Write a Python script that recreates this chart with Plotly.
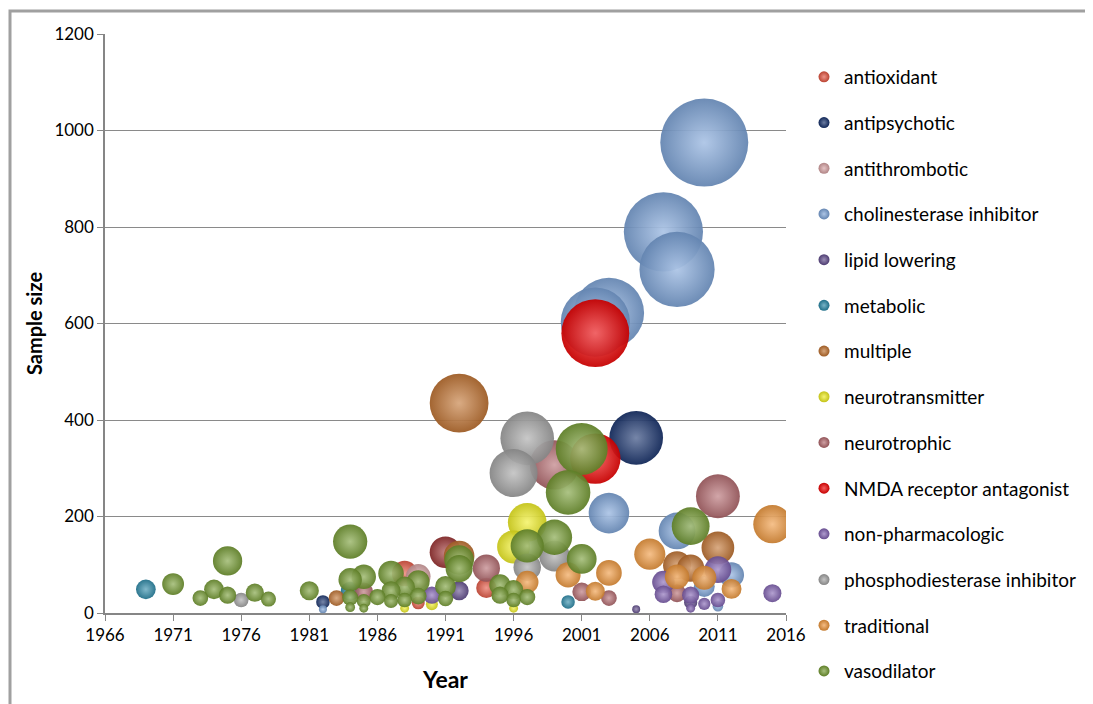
import plotly.graph_objects as go

# ---- data (year, sample size) per category ----
antioxidant_year = [1988, 1989, 1994]
antioxidant_n = [82, 21, 52]
antioxidant_dark_year = [1991]
antioxidant_dark_n = [126]

antipsychotic_year = [2005, 1982]
antipsychotic_n = [363, 23]

antithrombotic_year = [1989]
antithrombotic_n = [76]

cholinesterase_year = [2010, 2007, 2008, 2003, 2002, 2003, 2008, 2012, 2010, 2011, 1982]
cholinesterase_n = [975, 790, 712, 622, 603, 207, 170, 79, 55, 14, 8]

lipid_year = [1992, 2009, 2005]
lipid_n = [46, 22, 8]

metabolic_year = [1969, 1984, 2000]
metabolic_n = [49, 45, 23]

multiple_year = [1992, 2011, 1992, 2008, 2009, 1983]
multiple_n = [435, 135, 118, 99, 93, 31]

neurotransmitter_year = [1997, 1996, 1990, 1996, 1988]
neurotransmitter_n = [188, 137, 18, 10, 10]

neurotrophic_year = [1999, 2011, 1994, 2001, 1985, 2008, 2003]
neurotrophic_n = [307, 242, 93, 44, 44, 41, 31]

nmda_year = [2002, 2002]
nmda_n = [580, 320]

nonpharm_year = [2011, 2007, 2015, 2007, 2009, 1990, 2011, 2010, 2009]
nonpharm_n = [90, 64, 41, 39, 37, 37, 27, 19, 10]

pde_year = [1997, 1996, 1999, 1997, 1976]
pde_n = [362, 290, 118, 95, 27]

traditional_year = [2015, 2006, 2003, 2000, 2008, 2010, 1997, 2012, 2002]
traditional_n = [184, 122, 83, 79, 75, 73, 64, 50, 45]

vasodilator_year = [2001, 2000, 2009, 1999, 1984, 1997, 2001, 1992, 1975, 1992,
                    1987, 1985, 1984, 1989, 1971, 1995, 1991, 1988, 1974, 1996,
                    1981, 1987, 1977, 1975, 1995, 1989, 1986, 1997, 1984, 1973,
                    1991, 1978, 1988, 1996, 1985, 1987, 1984, 1985]
vasodilator_n = [340, 250, 180, 157, 148, 139, 112, 110, 108, 92,
                 82, 75, 69, 65, 60, 58, 55, 54, 49, 48,
                 46, 46, 42, 37, 37, 35, 33, 33, 32, 31,
                 30, 29, 27, 27, 25, 25, 12, 10]

series = [
    ("antioxidant", antioxidant_year, antioxidant_n, "#E4523E"),
    ("antipsychotic", antipsychotic_year, antipsychotic_n, "#142F6B"),
    ("antithrombotic", antithrombotic_year, antithrombotic_n, "#D8A3A4"),
    ("cholinesterase inhibitor", cholinesterase_year, cholinesterase_n, "#7BA3D8"),
    ("lipid lowering", lipid_year, lipid_n, "#5E4A8A"),
    ("metabolic", metabolic_year, metabolic_n, "#2787A6"),
    ("multiple", multiple_year, multiple_n, "#C0702C"),
    ("neurotransmitter", neurotransmitter_year, neurotransmitter_n, "#F0EE1E"),
    ("neurotrophic", neurotrophic_year, neurotrophic_n, "#B2666B"),
    ("NMDA receptor antagonist", nmda_year, nmda_n, "#F20000"),
    ("non-pharmacologic", nonpharm_year, nonpharm_n, "#7E5FB0"),
    ("phosphodiesterase inhibitor", pde_year, pde_n, "#A3A3A3"),
    ("traditional", traditional_year, traditional_n, "#F0963A"),
    ("vasodilator", vasodilator_year, vasodilator_n, "#739A30"),
]


def mix(hexcol, f, target=255):
    h = hexcol.lstrip("#")
    r, g, b = (int(h[i:i + 2], 16) for i in (0, 2, 4))
    r = int(r + (target - r) * f)
    g = int(g + (target - g) * f)
    b = int(b + (target - b) * f)
    return f"rgb({r},{g},{b})"


MAX_D = 88.0
MAX_N = 975.0


def diam(ns):
    return [MAX_D * (v / MAX_N) ** 0.5 for v in ns]


def sphere(col, sizes):
    return dict(size=sizes, sizemode="diameter", color=mix(col, 0.18, 0), opacity=0.94,
                line=dict(width=0),
                gradient=dict(type="radial", color=mix(col, 0.38, 255)))


fig = go.Figure()

for name, xs, ys, col in series:
    fig.add_trace(go.Scatter(
        x=xs, y=ys, mode="markers", name=name, legendgroup=name,
        showlegend=False, hoverinfo="x+y+name",
        marker=sphere(col, diam(ys)),
    ))
    if name == "antioxidant":
        fig.add_trace(go.Scatter(
            x=antioxidant_dark_year, y=antioxidant_dark_n, mode="markers",
            name=name, legendgroup=name, showlegend=False,
            marker=sphere("#9A2E2E", diam(antioxidant_dark_n)),
        ))

# legend entries
for name, xs, ys, col in series:
    m = sphere(col, 11)
    m["opacity"] = 1
    fig.add_trace(go.Scatter(
        x=[None], y=[None], mode="markers", name=name, legendgroup=name,
        showlegend=True, marker=m,
    ))

FONT = "Lato"
fig.update_layout(
    width=1085, height=704,
    margin=dict(l=97, r=307, t=26, b=99),
    paper_bgcolor="white", plot_bgcolor="white",
    font=dict(family=FONT, color="#000000"),
    showlegend=True,
    legend=dict(x=(804 - 105) / 681, y=(613 - 58) / 579, xanchor="left", yanchor="top",
                font=dict(family=FONT, size=19, color="#000000"),
                tracegroupgap=18, traceorder="grouped", maxheight=700,
                bgcolor="rgba(0,0,0,0)", itemwidth=30),
    xaxis=dict(range=[1966, 2016], tick0=1966, dtick=5, tickformat="d",
               showgrid=False, zeroline=False, showline=True,
               linecolor="#868686", linewidth=1.5,
               ticks="outside", ticklen=6, tickcolor="#868686",
               tickfont=dict(family=FONT, size=17),
               title=dict(text="<b>Year</b>", font=dict(family=FONT, size=23), standoff=28)),
    yaxis=dict(range=[0, 1200], dtick=200, showgrid=True, gridcolor="#8A8A8A",
               gridwidth=1.2, zeroline=False, showline=True,
               linecolor="#868686", linewidth=1.5,
               ticks="outside", ticklen=6, tickcolor="#868686",
               tickfont=dict(family=FONT, size=17),
               title=dict(text="<b>Sample size</b>", font=dict(family=FONT, size=20), standoff=6)),
    shapes=[dict(type="rect", xref="paper", yref="paper",
                 x0=(10 - 105) / 681, x1=(1110 - 105) / 681,
                 y0=(613 - 730) / 579, y1=(613 - 11) / 579,
                 line=dict(color="#A0A0A0", width=3), layer="below")],
)

fig.write_html("out.html")
